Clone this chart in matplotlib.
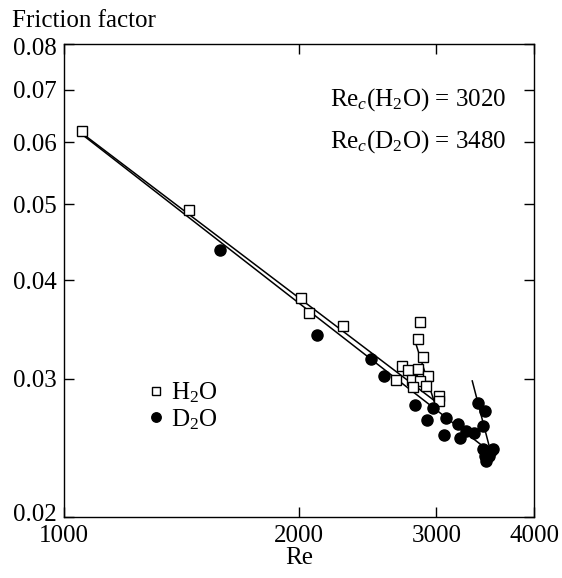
import numpy as np
import matplotlib
matplotlib.use('Agg')
import matplotlib.pyplot as plt
import matplotlib.transforms as mtransforms
from matplotlib.ticker import FixedLocator, FixedFormatter, NullLocator

plt.rcParams['font.family'] = ['Liberation Serif', 'DejaVu Serif']
plt.rcParams['mathtext.fontset'] = 'custom'
plt.rcParams['mathtext.rm'] = 'Liberation Serif'
plt.rcParams['mathtext.it'] = 'Liberation Serif:italic'

# H2O data (open squares)
re_h2o = [1055, 1447, 2012, 2062, 2275, 2858, 2843, 2885, 2708, 2761, 2843,
          2928, 2660, 2794, 2858, 2905, 2797, 3022, 3022]
f_h2o = [0.0620, 0.0492, 0.0380, 0.0364, 0.0350, 0.0354, 0.0337, 0.0320, 0.0311,
         0.0308, 0.0309, 0.0302, 0.0299, 0.0299, 0.0298, 0.0294, 0.0293, 0.0285, 0.0281]

# D2O data (filled circles)
re_d2o = [1585, 2107, 2474, 2572, 2816, 2972, 2917, 3085, 3069, 3197, 3273,
          3219, 3351, 3390, 3457, 3440, 3444, 3524, 3541, 3506, 3461, 3467]
f_d2o = [0.0437, 0.0341, 0.0318, 0.0302, 0.0278, 0.0275, 0.0266, 0.0267, 0.0254,
         0.0263, 0.0257, 0.0252, 0.0256, 0.0279, 0.0273, 0.0261, 0.0244, 0.0243,
         0.0244, 0.0239, 0.0239, 0.0236]

# fitted lines (end points)
fit_h2o_re = [1043, 3000]
fit_h2o_f = [0.0621, 0.0280]
fit_d2o_re = [1043, 3461]
fit_d2o_f = [0.0619, 0.0245]
steep_h2o_re = [2808, 2978]
steep_h2o_f = [0.0338, 0.0281]
steep_d2o_re = [3334, 3513]
steep_d2o_f = [0.0298, 0.0244]

x_ticks = [1000, 2000, 3000, 4000]
y_ticks = [0.02, 0.03, 0.04, 0.05, 0.06, 0.07, 0.08]
y_labels = ['0.02', '0.03', '0.04', '0.05', '0.06', '0.07', '0.08']

FS = 18

fig = plt.figure(figsize=(5.62, 5.78), dpi=100)
ax = fig.add_axes([64/562, 1 - 517/578, 470/562, 473/578])
ax.set_xscale('log')
ax.set_yscale('log')

for xs, ys in [(fit_h2o_re, fit_h2o_f), (fit_d2o_re, fit_d2o_f),
               (steep_h2o_re, steep_h2o_f), (steep_d2o_re, steep_d2o_f)]:
    ax.plot(xs, ys, color='black', lw=1.1, zorder=2)

ax.plot(re_h2o, f_h2o, ls='none', marker='s', ms=7.5, mfc='white', mec='black',
        mew=1.0, label='H$_2$O', zorder=3)
ax.plot(re_d2o, f_d2o, ls='none', marker='o', ms=8, mfc='black', mec='black',
        label='D$_2$O', zorder=4)

ax.set_xlim(1000, 4000)
ax.set_ylim(0.02, 0.08)
ax.xaxis.set_major_locator(FixedLocator(x_ticks))
ax.xaxis.set_major_formatter(FixedFormatter([str(v) for v in x_ticks]))
ax.xaxis.set_minor_locator(NullLocator())
ax.yaxis.set_major_locator(FixedLocator(y_ticks))
ax.yaxis.set_major_formatter(FixedFormatter(y_labels))
ax.yaxis.set_minor_locator(NullLocator())
ax.tick_params(direction='in', length=7.5, width=1.0, labelsize=FS,
               top=True, right=True)
ax.tick_params(axis='x', pad=6)
ax.tick_params(axis='y', pad=5)
# nudge the lowest / highest y labels as in the original
ylabs = ax.get_yticklabels()
up = mtransforms.ScaledTranslation(0, 3/72, fig.dpi_scale_trans)
down = mtransforms.ScaledTranslation(0, -2/72, fig.dpi_scale_trans)
ylabs[0].set_transform(ylabs[0].get_transform() + up)
ylabs[-1].set_transform(ylabs[-1].get_transform() + down)
for s in ax.spines.values():
    s.set_linewidth(1.0)

ax.set_xlabel('Re', fontsize=FS, labelpad=0)
fig.text(12/562, 1 - 27/578, 'Friction factor', fontsize=FS, ha='left', va='baseline')

ax.text(0.942, 0.8696, r'Re$_{c}$(H$_2$O) = 3020', transform=ax.transAxes,
        fontsize=FS, ha='right', va='baseline')
ax.text(0.942, 0.7808, r'Re$_{c}$(D$_2$O) = 3480', transform=ax.transAxes,
        fontsize=FS, ha='right', va='baseline')

leg = ax.legend(loc='upper left', bbox_to_anchor=(0.155, 0.31), frameon=False,
                fontsize=FS, handlelength=0.7, handletextpad=0.25,
                labelspacing=0.08, markerscale=0.85, borderaxespad=0)

fig.savefig('out.png', dpi=100)
